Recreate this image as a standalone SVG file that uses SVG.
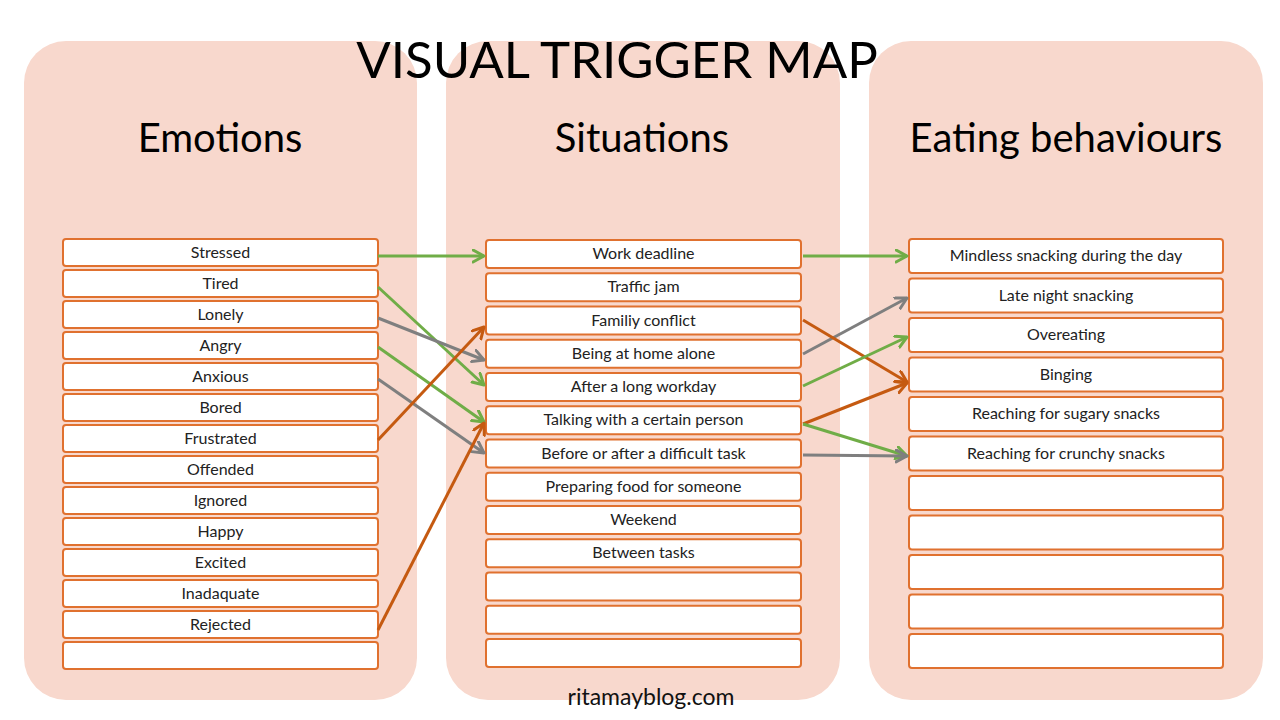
<svg xmlns="http://www.w3.org/2000/svg" width="1280" height="720" viewBox="0 0 1280 720">
<style>
.panel{fill:#F8D8CD}
.box{fill:#fff;stroke:#E0712F;stroke-width:2}
.lbl{font-family:Lato,"Liberation Sans",sans-serif;font-size:16px;fill:#222;text-anchor:middle}
.head{font-family:Lato,"Liberation Sans",sans-serif;font-size:40px;fill:#000;text-anchor:middle}
.title{font-family:Lato,"Liberation Sans",sans-serif;font-size:51px;fill:#000;text-anchor:middle}
.foot{font-family:Lato,"Liberation Sans",sans-serif;font-size:23px;fill:#111;text-anchor:middle}
.c{fill:none;stroke-width:3}
.g{stroke:#70AD47}
.y{stroke:#7F7F7F}
.o{stroke:#C55A11}
</style>
<defs>
<marker id="ag" markerUnits="userSpaceOnUse" markerWidth="16" markerHeight="16" refX="12" refY="7" orient="auto"><path d="M1,1 L12,7 L1,13" fill="none" stroke="#70AD47" stroke-width="3" stroke-linecap="round" stroke-linejoin="round"/></marker>
<marker id="ay" markerUnits="userSpaceOnUse" markerWidth="16" markerHeight="16" refX="12" refY="7" orient="auto"><path d="M1,1 L12,7 L1,13" fill="none" stroke="#7F7F7F" stroke-width="3" stroke-linecap="round" stroke-linejoin="round"/></marker>
<marker id="ao" markerUnits="userSpaceOnUse" markerWidth="16" markerHeight="16" refX="12" refY="7" orient="auto"><path d="M1,1 L12,7 L1,13" fill="none" stroke="#C55A11" stroke-width="3" stroke-linecap="round" stroke-linejoin="round"/></marker>
</defs>
<rect width="1280" height="720" fill="#fff"/>
<g id="panels">
<rect class="panel" x="24" y="41" width="393" height="659" rx="42"/>
<rect class="panel" x="446" y="41" width="394" height="659" rx="42"/>
<rect class="panel" x="869" y="41" width="394" height="659" rx="42"/>
</g>
<text id="title" class="title" x="617" y="78">VISUAL TRIGGER MAP</text>
<text class="head" x="220" y="152">Emotions</text>
<text class="head" x="642" y="152">Situations</text>
<text class="head" x="1066" y="152">Eating behaviours</text>
<g id="emotions">
<g id="e1"><rect class="box" x="63" y="239" width="315" height="27" rx="3"/><text class="lbl" x="220.5" y="257.5">Stressed</text></g>
<g id="e2"><rect class="box" x="63" y="270" width="315" height="27" rx="3"/><text class="lbl" x="220.5" y="288.5">Tired</text></g>
<g id="e3"><rect class="box" x="63" y="301" width="315" height="27" rx="3"/><text class="lbl" x="220.5" y="319.5">Lonely</text></g>
<g id="e4"><rect class="box" x="63" y="332" width="315" height="27" rx="3"/><text class="lbl" x="220.5" y="350.5">Angry</text></g>
<g id="e5"><rect class="box" x="63" y="363" width="315" height="27" rx="3"/><text class="lbl" x="220.5" y="381.5">Anxious</text></g>
<g id="e6"><rect class="box" x="63" y="394" width="315" height="27" rx="3"/><text class="lbl" x="220.5" y="412.5">Bored</text></g>
<g id="e7"><rect class="box" x="63" y="425" width="315" height="27" rx="3"/><text class="lbl" x="220.5" y="443.5">Frustrated</text></g>
<g id="e8"><rect class="box" x="63" y="456" width="315" height="27" rx="3"/><text class="lbl" x="220.5" y="474.5">Offended</text></g>
<g id="e9"><rect class="box" x="63" y="487" width="315" height="27" rx="3"/><text class="lbl" x="220.5" y="505.5">Ignored</text></g>
<g id="e10"><rect class="box" x="63" y="518" width="315" height="27" rx="3"/><text class="lbl" x="220.5" y="536.5">Happy</text></g>
<g id="e11"><rect class="box" x="63" y="549" width="315" height="27" rx="3"/><text class="lbl" x="220.5" y="567.5">Excited</text></g>
<g id="e12"><rect class="box" x="63" y="580" width="315" height="27" rx="3"/><text class="lbl" x="220.5" y="598.5">Inadaquate</text></g>
<g id="e13"><rect class="box" x="63" y="611" width="315" height="27" rx="3"/><text class="lbl" x="220.5" y="629.5">Rejected</text></g>
<g id="e14"><rect class="box" x="63" y="642" width="315" height="27" rx="3"/></g>
</g>
<g id="situations">
<g id="s1"><rect class="box" x="486" y="240" width="315" height="28" rx="3"/><text class="lbl" x="643.5" y="259">Work deadline</text></g>
<g id="s2"><rect class="box" x="486" y="273.25" width="315" height="28" rx="3"/><text class="lbl" x="643.5" y="292.25">Traffic jam</text></g>
<g id="s3"><rect class="box" x="486" y="306.5" width="315" height="28" rx="3"/><text class="lbl" x="643.5" y="325.5">Familiy conflict</text></g>
<g id="s4"><rect class="box" x="486" y="339.75" width="315" height="28" rx="3"/><text class="lbl" x="643.5" y="358.75">Being at home alone</text></g>
<g id="s5"><rect class="box" x="486" y="373" width="315" height="28" rx="3"/><text class="lbl" x="643.5" y="392">After a long workday</text></g>
<g id="s6"><rect class="box" x="486" y="406.25" width="315" height="28" rx="3"/><text class="lbl" x="643.5" y="425.25">Talking with a certain person</text></g>
<g id="s7"><rect class="box" x="486" y="439.5" width="315" height="28" rx="3"/><text class="lbl" x="643.5" y="458.5">Before or after a difficult task</text></g>
<g id="s8"><rect class="box" x="486" y="472.75" width="315" height="28" rx="3"/><text class="lbl" x="643.5" y="491.75">Preparing food for someone</text></g>
<g id="s9"><rect class="box" x="486" y="506" width="315" height="28" rx="3"/><text class="lbl" x="643.5" y="525">Weekend</text></g>
<g id="s10"><rect class="box" x="486" y="539.25" width="315" height="28" rx="3"/><text class="lbl" x="643.5" y="558.25">Between tasks</text></g>
<g id="s11"><rect class="box" x="486" y="572.5" width="315" height="28" rx="3"/></g>
<g id="s12"><rect class="box" x="486" y="605.75" width="315" height="28" rx="3"/></g>
<g id="s13"><rect class="box" x="486" y="639" width="315" height="28" rx="3"/></g>
</g>
<g id="behaviours">
<g id="b1"><rect class="box" x="909" y="239" width="314" height="34" rx="3"/><text class="lbl" x="1066" y="261">Mindless snacking during the day</text></g>
<g id="b2"><rect class="box" x="909" y="278.5" width="314" height="34" rx="3"/><text class="lbl" x="1066" y="300.5">Late night snacking</text></g>
<g id="b3"><rect class="box" x="909" y="318" width="314" height="34" rx="3"/><text class="lbl" x="1066" y="340">Overeating</text></g>
<g id="b4"><rect class="box" x="909" y="357.5" width="314" height="34" rx="3"/><text class="lbl" x="1066" y="379.5">Binging</text></g>
<g id="b5"><rect class="box" x="909" y="397" width="314" height="34" rx="3"/><text class="lbl" x="1066" y="419">Reaching for sugary snacks</text></g>
<g id="b6"><rect class="box" x="909" y="436.5" width="314" height="34" rx="3"/><text class="lbl" x="1066" y="458.5">Reaching for crunchy snacks</text></g>
<g id="b7"><rect class="box" x="909" y="476" width="314" height="34" rx="3"/></g>
<g id="b8"><rect class="box" x="909" y="515.5" width="314" height="34" rx="3"/></g>
<g id="b9"><rect class="box" x="909" y="555" width="314" height="34" rx="3"/></g>
<g id="b10"><rect class="box" x="909" y="594.5" width="314" height="34" rx="3"/></g>
<g id="b11"><rect class="box" x="909" y="634" width="314" height="34" rx="3"/></g>
</g>
<g id="connectors">
<line class="c g" x1="378" y1="256" x2="484" y2="256" marker-end="url(#ag)"/>
<line class="c g" x1="378" y1="287" x2="484" y2="385" marker-end="url(#ag)"/>
<line class="c y" x1="378" y1="318" x2="484" y2="360" marker-end="url(#ay)"/>
<line class="c g" x1="378" y1="347" x2="484" y2="422" marker-end="url(#ag)"/>
<line class="c y" x1="378" y1="379" x2="484" y2="453" marker-end="url(#ay)"/>
<line class="c o" x1="378" y1="440" x2="484" y2="327" marker-end="url(#ao)"/>
<line class="c o" x1="378" y1="630" x2="484" y2="423" marker-end="url(#ao)"/>
<line class="c g" x1="803" y1="256" x2="907" y2="256" marker-end="url(#ag)"/>
<line class="c y" x1="803" y1="354" x2="907" y2="298" marker-end="url(#ay)"/>
<line class="c o" x1="803" y1="320" x2="907" y2="382" marker-end="url(#ao)"/>
<line class="c g" x1="803" y1="386" x2="907" y2="337" marker-end="url(#ag)"/>
<line class="c o" x1="803" y1="424" x2="907" y2="383" marker-end="url(#ao)"/>
<line class="c g" x1="803" y1="424" x2="907" y2="456" marker-end="url(#ag)"/>
<line class="c y" x1="803" y1="455" x2="907" y2="456" marker-end="url(#ay)"/>
</g>
<text id="footer" class="foot" x="651" y="705">ritamayblog.com</text>
</svg>
